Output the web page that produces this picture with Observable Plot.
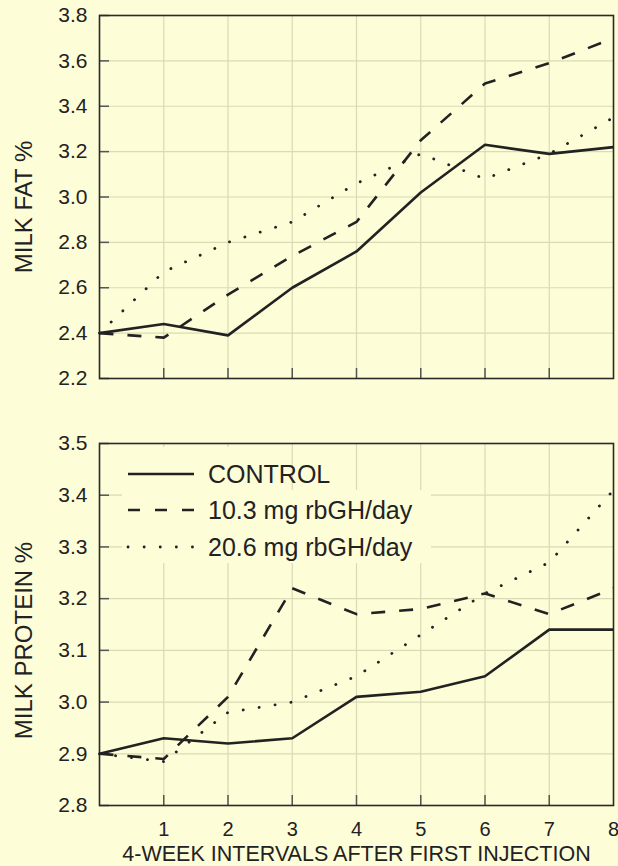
<!DOCTYPE html>
<html>
<head>
<meta charset="utf-8">
<script src="https://cdn.jsdelivr.net/npm/d3@7"></script>
<script src="https://cdn.jsdelivr.net/npm/@observablehq/plot@0.6"></script>
<style>
  html, body { margin: 0; padding: 0; background: #fdfdd8; }
  #wrap { position: relative; width: 618px; height: 866px; overflow: hidden; font-family: "Liberation Sans", Arial, sans-serif; }
  #wrap svg { display: block; background: #fdfdd8; overflow: visible; }
  #legend { position: absolute; left: 0; top: 0; background: none !important; }
  #wrap g[aria-label="y-axis tick label"] text { font-size: 21px; }
  #wrap g[aria-label="x-axis tick label"] text { font-size: 20px; }
  #wrap g[aria-label="x-axis label"] text { font-size: 21.5px; }
</style>
</head>
<body>
<div id="wrap"></div>
<script>
const intervals = [0, 1, 2, 3, 4, 5, 6, 7, 8];
const seriesNames = ["CONTROL", "10.3 mg rbGH/day", "20.6 mg rbGH/day"];
const fatControl = [2.40, 2.44, 2.39, 2.60, 2.76, 3.02, 3.23, 3.19, 3.22];
const fatLow     = [2.40, 2.38, 2.57, 2.74, 2.89, 3.25, 3.50, 3.59, 3.70];
const fatHigh    = [2.40, 2.67, 2.80, 2.89, 3.06, 3.19, 3.08, 3.19, 3.35];
const proteinControl = [2.90, 2.93, 2.92, 2.93, 3.01, 3.02, 3.05, 3.14, 3.14];
const proteinLow     = [2.90, 2.89, 3.01, 3.22, 3.17, 3.18, 3.21, 3.17, 3.22];
const proteinHigh    = [2.90, 2.885, 2.98, 3.00, 3.05, 3.13, 3.21, 3.27, 3.41];
const fatTicks = [2.2, 2.4, 2.6, 2.8, 3.0, 3.2, 3.4, 3.6, 3.8];
const proteinTicks = [2.8, 2.9, 3.0, 3.1, 3.2, 3.3, 3.4, 3.5];
const xTickLabels = [1, 2, 3, 4, 5, 6, 7, 8];
const xGrid = [1, 2, 3, 4, 5, 6, 7];
const xTitle = "4-WEEK INTERVALS AFTER FIRST INJECTION";
const fatLabel = "MILK FAT %";
const proteinLabel = "MILK PROTEIN %";

const BG = "#fdfdd8";
const INK = "#222222";
const GRID = "#dadab4";
const styles = [
  {strokeWidth: 2.6, strokeDasharray: null, strokeLinecap: "butt"},
  {strokeWidth: 2.6, strokeDasharray: "14,14", strokeLinecap: "butt"},
  {strokeWidth: 2.8, strokeDasharray: "0.1,16", strokeLinecap: "round"}
];
const legendDash = [null, "12,15", "0.1,16"];

function rows(vals) { return intervals.map((x, i) => ({x, y: vals[i]})); }

function panel({series, ticks, domain, label, labelDy, height, marginTop, marginBottom, showX}) {
  const marks = [
    Plot.ruleX(xGrid, {stroke: GRID, strokeWidth: 1.2}),
    Plot.ruleY(ticks, {stroke: GRID, strokeWidth: 1.2}),
    Plot.axisY(ticks, {tickSize: 0, tickPadding: 12, fontSize: 21, fill: INK,
      tickFormat: d3.format(".1f"), label: null}),
    Plot.axisY(ticks, {tickSize: -10, tickFormat: () => "", stroke: "#555", strokeWidth: 1.5, label: null}),
    Plot.axisX(xGrid, {tickSize: -10, tickFormat: () => "", stroke: "#555", strokeWidth: 1.5, label: null}),
    Plot.text([label], {frameAnchor: "left", textAnchor: "middle", lineAnchor: "middle", rotate: -90,
      dx: -75, dy: labelDy, fontSize: 24, fill: INK}),
    Plot.frame({stroke: "#2a2a2a", strokeWidth: 1.6})
  ];
  if (showX) {
    marks.push(Plot.axisX(xTickLabels, {tickSize: 0, tickPadding: 16, fontSize: 20, fill: INK,
      label: xTitle, labelAnchor: "center", labelArrow: "none", labelOffset: 55}));
  }
  series.forEach((vals, i) => {
    marks.push(Plot.line(rows(vals), {x: "x", y: "y", stroke: INK, ...styles[i], strokeLinejoin: "round"}));
  });
  return Plot.plot({
    width: 618, height, marginTop, marginBottom, marginLeft: 99, marginRight: 5,
    style: {background: BG, fontFamily: "Liberation Sans, Arial, sans-serif", color: INK, fontSize: "20px", overflow: "visible"},
    x: {domain: [0, 8]},
    y: {domain},
    marks
  });
}

const wrap = document.getElementById("wrap");
const topPanel = panel({series: [fatControl, fatLow, fatHigh], ticks: fatTicks, domain: [2.2, 3.8],
  label: fatLabel, labelDy: 10, height: 395, marginTop: 15, marginBottom: 17, showX: false});
const bottomPanel = panel({series: [proteinControl, proteinLow, proteinHigh], ticks: proteinTicks, domain: [2.8, 3.5],
  label: proteinLabel, labelDy: 16, height: 471, marginTop: 48, marginBottom: 61, showX: true});
wrap.appendChild(topPanel);
wrap.appendChild(bottomPanel);

// Legend overlay inside the bottom panel
const legend = d3.select(wrap).append("svg").attr("id", "legend")
  .attr("width", 618).attr("height", 866);
const rowY = [474, 510, 547];
const rowBox = [[447, 43, 150], [490, 38, 309], [528, 35, 309]];
seriesNames.forEach((name, i) => {
  legend.append("rect").attr("x", 122).attr("y", rowBox[i][0]).attr("width", rowBox[i][2])
    .attr("height", rowBox[i][1]).attr("fill", BG);
});
seriesNames.forEach((name, i) => {
  const g = legend.append("g").attr("transform", `translate(0,${rowY[i]})`);
  g.append("line").attr("x1", 128).attr("x2", 194).attr("y1", 0).attr("y2", 0)
    .attr("stroke", INK).attr("stroke-width", styles[i].strokeWidth)
    .attr("stroke-dasharray", legendDash[i])
    .attr("stroke-linecap", styles[i].strokeLinecap);
  g.append("text").attr("x", 208).attr("y", 0).attr("dy", "0.35em")
    .attr("font-size", 25).attr("fill", INK)
    .attr("font-family", "Liberation Sans, Arial, sans-serif").text(name);
});
</script>
</body>
</html>
